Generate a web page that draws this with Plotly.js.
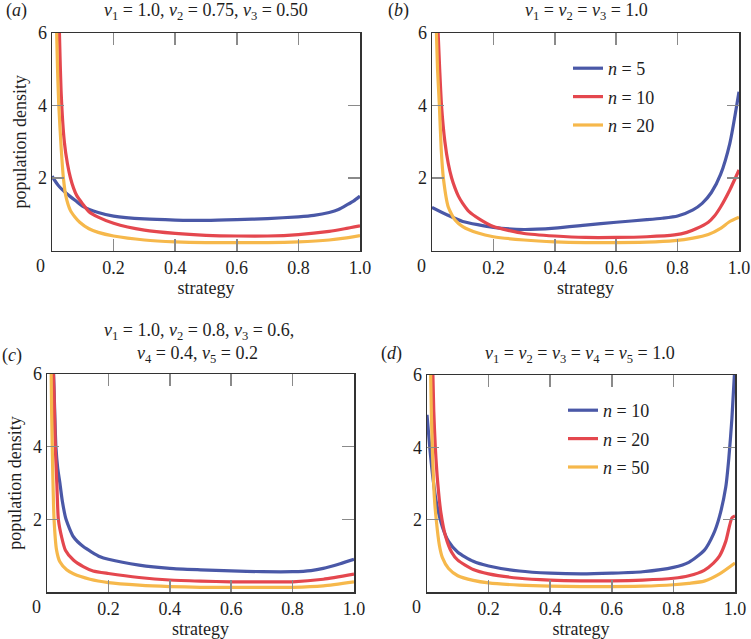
<!DOCTYPE html>
<html>
<head>
<meta charset="utf-8">
<script src="https://cdn.plot.ly/plotly-3.0.1.min.js"></script>
<style>
html,body{margin:0;padding:0;background:#fff;}
#chart{width:751px;height:639px;}
text{font-family:'Liberation Serif',serif !important;}
</style>
</head>
<body>
<div id="chart"></div>
<script>
// ---- tick labels ----
const xTickVals = [0.2, 0.4, 0.6, 0.8, 1.0];
const xTickText = ['0.2', '0.4', '0.6', '0.8', '1.0'];
const yTickVals = [2, 4, 6];
const yTickText = ['2', '4', '6'];

// ---- panel (a): v1=1.0, v2=0.75, v3=0.50 ----
const a_n5_x  = [0, 0.02, 0.05, 0.08, 0.1, 0.15, 0.2, 0.3, 0.4, 0.5, 0.6, 0.7, 0.8, 0.85, 0.9, 0.93, 0.96, 0.98, 1.0];
const a_n5_y  = [2.05, 1.8, 1.55, 1.35, 1.22, 1.05, 0.95, 0.87, 0.84, 0.83, 0.85, 0.88, 0.93, 0.97, 1.05, 1.13, 1.27, 1.37, 1.5];
const a_n10_x = [0.023, 0.03, 0.04, 0.05, 0.06, 0.07, 0.08, 0.1, 0.12, 0.15, 0.2, 0.3, 0.4, 0.5, 0.6, 0.7, 0.8, 0.9, 0.95, 1.0];
const a_n10_y = [6.4, 4.3, 3.0, 2.4, 2.0, 1.72, 1.52, 1.28, 1.07, 0.92, 0.75, 0.56, 0.47, 0.42, 0.40, 0.40, 0.44, 0.53, 0.6, 0.68];
const a_n20_x = [0.014, 0.018, 0.022, 0.03, 0.037, 0.045, 0.06, 0.075, 0.09, 0.12, 0.15, 0.2, 0.3, 0.4, 0.5, 0.6, 0.7, 0.8, 0.9, 0.95, 1.0];
const a_n20_y = [6.4, 5.0, 4.0, 2.8, 2.0, 1.5, 1.1, 0.92, 0.78, 0.6, 0.5, 0.4, 0.29, 0.24, 0.22, 0.22, 0.22, 0.24, 0.29, 0.34, 0.41];

// ---- panel (b): v1=v2=v3=1.0 ----
const b_n5_x  = [0, 0.05, 0.1, 0.2, 0.3, 0.4, 0.5, 0.6, 0.7, 0.75, 0.8, 0.85, 0.88, 0.91, 0.94, 0.97, 1.0];
const b_n5_y  = [1.19, 0.98, 0.8, 0.64, 0.58, 0.62, 0.70, 0.78, 0.85, 0.89, 0.95, 1.12, 1.3, 1.6, 2.1, 2.95, 4.38];
const b_n10_x = [0.018, 0.025, 0.031, 0.042, 0.053, 0.064, 0.075, 0.086, 0.1, 0.12, 0.156, 0.2, 0.3, 0.4, 0.5, 0.6, 0.7, 0.79, 0.83, 0.86, 0.9, 0.92, 0.94, 0.97, 1.0];
const b_n10_y = [6.4, 5.0, 4.0, 3.0, 2.4, 2.0, 1.72, 1.5, 1.3, 1.08, 0.86, 0.66, 0.47, 0.40, 0.36, 0.36, 0.38, 0.43, 0.5, 0.6, 0.78, 0.95, 1.2, 1.67, 2.22];
const b_n20_x = [0.013, 0.018, 0.024, 0.03, 0.037, 0.053, 0.075, 0.1, 0.15, 0.2, 0.3, 0.4, 0.5, 0.6, 0.7, 0.79, 0.85, 0.9, 0.94, 0.97, 1.0];
const b_n20_y = [6.4, 5.0, 4.0, 2.8, 2.0, 1.2, 0.84, 0.66, 0.48, 0.38, 0.29, 0.24, 0.22, 0.22, 0.23, 0.27, 0.34, 0.44, 0.61, 0.8, 0.92];

// ---- panel (c): v1=1.0, v2=0.8, v3=0.6, v4=0.4, v5=0.2 ----
const c_n10_x = [0.02, 0.025, 0.029, 0.035, 0.042, 0.05, 0.062, 0.086, 0.118, 0.173, 0.2, 0.3, 0.4, 0.5, 0.6, 0.7, 0.8, 0.86, 0.9, 0.955, 1.0];
const c_n10_y = [6.4, 5.0, 4.0, 3.4, 3.0, 2.5, 2.0, 1.52, 1.25, 0.97, 0.90, 0.74, 0.65, 0.61, 0.58, 0.56, 0.56, 0.59, 0.65, 0.78, 0.90];
const c_n20_x = [0.019, 0.023, 0.027, 0.032, 0.037, 0.048, 0.06, 0.086, 0.118, 0.15, 0.2, 0.3, 0.4, 0.5, 0.6, 0.7, 0.8, 0.9, 1.0];
const c_n20_y = [6.5, 5.5, 4.0, 3.0, 2.0, 1.5, 1.15, 0.88, 0.70, 0.58, 0.51, 0.40, 0.33, 0.30, 0.28, 0.28, 0.28, 0.35, 0.49];
const c_n50_x = [0.013, 0.015, 0.019, 0.023, 0.031, 0.042, 0.064, 0.086, 0.14, 0.2, 0.3, 0.4, 0.5, 0.6, 0.7, 0.8, 0.9, 1.0];
const c_n50_y = [6.4, 5.0, 3.2, 2.0, 1.16, 0.83, 0.61, 0.50, 0.35, 0.26, 0.19, 0.15, 0.13, 0.13, 0.13, 0.13, 0.17, 0.28];

// ---- panel (d): v1=...=v5=1.0 ----
const d_n10_x = [0, 0.01, 0.02, 0.03, 0.05, 0.07, 0.1, 0.15, 0.2, 0.3, 0.4, 0.5, 0.6, 0.7, 0.8, 0.85, 0.9, 0.93, 0.95, 0.97, 0.98, 0.99, 1.0];
const d_n10_y = [4.9, 3.9, 3.1, 2.5, 1.8, 1.4, 1.1, 0.85, 0.72, 0.58, 0.52, 0.50, 0.52, 0.56, 0.68, 0.82, 1.15, 1.6, 2.1, 2.9, 3.7, 4.8, 6.3];
const d_n20_x = [0.018, 0.022, 0.027, 0.035, 0.045, 0.06, 0.08, 0.1, 0.15, 0.2, 0.3, 0.4, 0.5, 0.6, 0.7, 0.8, 0.85, 0.9, 0.93, 0.95, 0.97, 0.99, 1.0];
const d_n20_y = [6.4, 5.0, 4.0, 3.0, 2.2, 1.55, 1.1, 0.88, 0.62, 0.5, 0.38, 0.33, 0.31, 0.31, 0.33, 0.38, 0.45, 0.6, 0.8, 1.0, 1.4, 2.05, 2.1];
const d_n50_x = [0.011, 0.014, 0.018, 0.024, 0.03, 0.04, 0.05, 0.07, 0.1, 0.15, 0.2, 0.3, 0.4, 0.5, 0.6, 0.7, 0.8, 0.85, 0.9, 0.95, 1.0];
const d_n50_y = [6.4, 5.0, 3.8, 2.6, 2.0, 1.3, 0.95, 0.65, 0.45, 0.32, 0.25, 0.19, 0.16, 0.15, 0.15, 0.16, 0.2, 0.24, 0.3, 0.5, 0.8];

// ---- styling ----
const BLUE = '#4a58a7', RED = '#e4474e', ORANGE = '#f6b84b';
const SERIF = 'Liberation Serif';
const INK = '#1e1e1e';
const FS = 18;

function tr(x, y, color, xa, ya, name, legend, show, group) {
  return {
    x: x, y: y, type: 'scatter', mode: 'lines',
    line: {color: color, width: 3.2, shape: 'spline', smoothing: 0.6},
    xaxis: xa, yaxis: ya, name: name, showlegend: show,
    legend: legend, legendgroup: group
  };
}

const data = [
  tr(a_n5_x, a_n5_y, BLUE, 'x', 'y', '<i>n</i> = 5', 'legend', false, 'a1'),
  tr(a_n10_x, a_n10_y, RED, 'x', 'y', '<i>n</i> = 10', 'legend', false, 'a2'),
  tr(a_n20_x, a_n20_y, ORANGE, 'x', 'y', '<i>n</i> = 20', 'legend', false, 'a3'),
  tr(b_n5_x, b_n5_y, BLUE, 'x2', 'y2', '<i>n</i> = 5', 'legend', true, 'b1'),
  tr(b_n10_x, b_n10_y, RED, 'x2', 'y2', '<i>n</i> = 10', 'legend', true, 'b2'),
  tr(b_n20_x, b_n20_y, ORANGE, 'x2', 'y2', '<i>n</i> = 20', 'legend', true, 'b3'),
  tr(c_n10_x, c_n10_y, BLUE, 'x3', 'y3', '<i>n</i> = 10', 'legend2', false, 'c1'),
  tr(c_n20_x, c_n20_y, RED, 'x3', 'y3', '<i>n</i> = 20', 'legend2', false, 'c2'),
  tr(c_n50_x, c_n50_y, ORANGE, 'x3', 'y3', '<i>n</i> = 50', 'legend2', false, 'c3'),
  tr(d_n10_x, d_n10_y, BLUE, 'x4', 'y4', '<i>n</i> = 10', 'legend2', true, 'd1'),
  tr(d_n20_x, d_n20_y, RED, 'x4', 'y4', '<i>n</i> = 20', 'legend2', true, 'd2'),
  tr(d_n50_x, d_n50_y, ORANGE, 'x4', 'y4', '<i>n</i> = 50', 'legend2', true, 'd3')
];

function xax(domain, anchor) {
  return {
    domain: domain, anchor: anchor, range: [0, 1],
    tickvals: xTickVals, ticktext: xTickText,
    ticks: 'inside', ticklen: 12, tickwidth: 1.5, tickcolor: '#8a8a8a',
    showline: true, linecolor: '#333', linewidth: 1.5, mirror: 'ticks',
    showgrid: false, zeroline: false,
    tickfont: {family: SERIF, size: FS, color: INK},
    title: {text: 'strategy', font: {family: SERIF, size: FS, color: INK}, standoff: 2}
  };
}
function yax(domain, anchor, withTitle) {
  const a = {
    domain: domain, anchor: anchor, range: [0, 6],
    tickvals: yTickVals, ticktext: yTickText,
    ticks: 'inside', ticklen: 12, tickwidth: 1.5, tickcolor: '#8a8a8a',
    showline: true, linecolor: '#333', linewidth: 1.5, mirror: 'ticks',
    showgrid: false, zeroline: false,
    tickfont: {family: SERIF, size: FS, color: INK}
  };
  if (withTitle) a.title = {text: 'population density', font: {family: SERIF, size: FS, color: INK}, standoff: 6};
  return a;
}

const W = 751, H = 639;
const dA = {x: [52 / W, 360 / W], y: [1 - 250.5 / H, 1 - 33 / H]};
const dB = {x: [432 / W, 739 / W], y: [1 - 250.5 / H, 1 - 33 / H]};
const dC = {x: [47 / W, 354 / W], y: [1 - 592 / H, 1 - 374 / H]};
const dD = {x: [427 / W, 735 / W], y: [1 - 592 / H, 1 - 375 / H]};

function ann(text, x, y) {
  return {text: text, xref: 'paper', yref: 'paper', x: x / W, y: 1 - y / H,
    showarrow: false, font: {family: SERIF, size: FS, color: INK}, xanchor: 'center', yanchor: 'middle'};
}
function zeroLabel(xa, ya) {
  return {text: '0', xref: xa, yref: ya, x: 0, y: 0, showarrow: false, font: {family: SERIF, size: FS, color: INK},
    xanchor: 'center', yanchor: 'top', xshift: -11, yshift: -3};
}

const layout = {
  width: W, height: H,
  margin: {l: 0, r: 0, t: 0, b: 0},
  paper_bgcolor: '#fff', plot_bgcolor: '#fff',
  font: {family: SERIF, size: FS, color: INK},
  xaxis: xax(dA.x, 'y'), yaxis: yax(dA.y, 'x', true),
  xaxis2: xax(dB.x, 'y2'), yaxis2: yax(dB.y, 'x2', false),
  xaxis3: xax(dC.x, 'y3'), yaxis3: yax(dC.y, 'x3', true),
  xaxis4: xax(dD.x, 'y4'), yaxis4: yax(dD.y, 'x4', false),
  legend: {x: 568 / W, y: 1 - 50 / H, xanchor: 'left', yanchor: 'top', bgcolor: 'rgba(0,0,0,0)',
    font: {family: SERIF, size: FS, color: INK}, tracegroupgap: 2, traceorder: 'grouped', itemwidth: 30},
  legend2: {x: 563 / W, y: 1 - 392 / H, xanchor: 'left', yanchor: 'top', bgcolor: 'rgba(0,0,0,0)',
    font: {family: SERIF, size: FS, color: INK}, tracegroupgap: 2, traceorder: 'grouped', itemwidth: 30},
  annotations: [
    ann('(<i>a</i>)', 16, 10),
    ann('<i>v</i><sub>1</sub> = 1.0, <i>v</i><sub>2</sub> = 0.75, <i>v</i><sub>3</sub> = 0.50', 206, 11),
    ann('(<i>b</i>)', 399, 10),
    ann('<i>v</i><sub>1</sub> = <i>v</i><sub>2</sub> = <i>v</i><sub>3</sub> = 1.0', 586, 11),
    ann('(<i>c</i>)', 12, 355),
    ann('<i>v</i><sub>1</sub> = 1.0, <i>v</i><sub>2</sub> = 0.8, <i>v</i><sub>3</sub> = 0.6,', 199, 331),
    ann('<i>v</i><sub>4</sub> = 0.4, <i>v</i><sub>5</sub> = 0.2', 197, 354),
    ann('(<i>d</i>)', 391, 353),
    ann('<i>v</i><sub>1</sub> = <i>v</i><sub>2</sub> = <i>v</i><sub>3</sub> = <i>v</i><sub>4</sub> = <i>v</i><sub>5</sub> = 1.0', 580, 354),
    zeroLabel('x', 'y'), zeroLabel('x2', 'y2'), zeroLabel('x3', 'y3'), zeroLabel('x4', 'y4')
  ]
};

Plotly.newPlot('chart', data, layout, {staticPlot: true});
</script>
</body>
</html>
